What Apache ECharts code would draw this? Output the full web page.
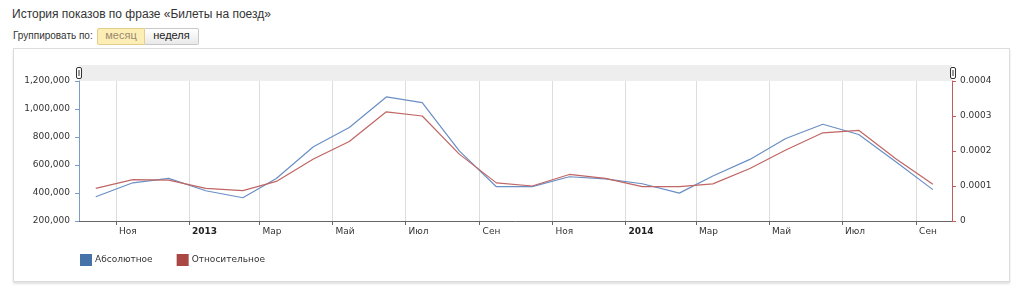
<!DOCTYPE html>
<html>
<head>
<meta charset="utf-8">
<script src="https://cdn.jsdelivr.net/npm/echarts@6/dist/echarts.min.js"></script>
<style>
  html, body { margin: 0; padding: 0; background: #fff; width: 1024px; height: 292px; overflow: hidden; }
  #title { position: absolute; left: 12px; top: 7px; font: 12px "Liberation Sans", Arial, sans-serif; color: #333; white-space: nowrap; }
  #grp { position: absolute; left: 13px; top: 29px; font: 10px "Liberation Sans", Arial, sans-serif; color: #333; white-space: nowrap; line-height: 14px; }
  .btn { position: absolute; top: 28px; height: 15px; line-height: 15px; font: 11px "Liberation Sans", Arial, sans-serif; text-align: center; box-sizing: content-box; }
  #b1 { left: 97px; width: 46px; background: #fdeeb6; border: 1px solid #e3cf8a; color: #9a8a70; border-radius: 2px 0 0 2px; }
  #b2 { left: 145px; width: 53px; background: linear-gradient(#ffffff, #e9e9e9); border: 1px solid #c8c8c8; border-left: none; color: #222; border-radius: 0 2px 2px 0; }
  #frame { position: absolute; left: 13px; top: 48px; width: 995px; height: 232px; border: 1px solid #dcdcdc; box-shadow: 0 2px 2px rgba(0,0,0,0.12); background: #fff; }
  #chart { position: absolute; left: 0; top: 0; width: 1024px; height: 292px; }
</style>
</head>
<body>
<div id="title">История показов по фразе «Билеты на поезд»</div>
<div id="grp">Группировать по:</div>
<div class="btn" id="b1">месяц</div>
<div class="btn" id="b2">неделя</div>
<div id="frame"></div>
<div id="chart"></div>
<script>
// ---- data ----
const months = ['2012-10','2012-11','2012-12','2013-01','2013-02','2013-03','2013-04','2013-05','2013-06','2013-07','2013-08','2013-09',
                '2013-10','2013-11','2013-12','2014-01','2014-02','2014-03','2014-04','2014-05','2014-06','2014-07','2014-08','2014-09'];
const absoluteValues = [373000, 473000, 504000, 416000, 366000, 504000, 730000, 868000, 1086000, 1046000, 701000, 445000,
                        445000, 516000, 501000, 466000, 399000, 521000, 640000, 789000, 891000, 818000, 623000, 424000];
const relativeValues = [0.0000933, 0.000118, 0.000117, 0.0000933, 0.0000866, 0.000113, 0.000177, 0.000227, 0.000312, 0.000300, 0.000191, 0.000109,
                        0.000100, 0.000133, 0.000122, 0.000098, 0.000098, 0.000106, 0.000150, 0.000203, 0.000252, 0.000259, 0.000178, 0.000105];
const tickDates = ['2012-11-01','2013-01-01','2013-03-01','2013-05-01','2013-07-01','2013-09-01',
                   '2013-11-01','2014-01-01','2014-03-01','2014-05-01','2014-07-01','2014-09-01'];
const tickLabels = ['Ноя','2013','Мар','Май','Июл','Сен','Ноя','2014','Мар','Май','Июл','Сен'];
const seriesNames = ['Абсолютное', 'Относительное'];
const axisStart = '2012-10-01';
const axisEnd = '2014-10-01';

function ts(s) {
  const p = s.split('-').map(Number);
  return Date.UTC(p[0], p[1] - 1, p[2] || 1);
}
const labelMap = {};
tickDates.forEach((d, i) => { labelMap[ts(d)] = tickLabels[i]; });

const FONT = 'DejaVu Sans';
const chart = echarts.init(document.getElementById('chart'), null, { renderer: 'canvas' });
chart.setOption({
  animation: false,
  backgroundColor: 'transparent',
  textStyle: { fontFamily: FONT },
  grid: { left: 79, right: 72, top: 81, bottom: 71, containLabel: false },
  graphic: [
    { type: 'rect', shape: { x: 79, y: 65, width: 873, height: 16 }, style: { fill: '#eeeeee' }, z: 0 },
    { type: 'rect', shape: { x: 76.5, y: 67.5, width: 5, height: 11, r: 1.5 }, style: { fill: '#fff', stroke: '#333', lineWidth: 1 }, z: 10 },
    { type: 'line', shape: { x1: 79, y1: 70, x2: 79, y2: 76 }, style: { stroke: '#333', lineWidth: 1 }, z: 11 },
    { type: 'rect', shape: { x: 950.5, y: 67.5, width: 5, height: 11, r: 1.5 }, style: { fill: '#fff', stroke: '#333', lineWidth: 1 }, z: 10 },
    { type: 'line', shape: { x1: 953, y1: 70, x2: 953, y2: 76 }, style: { stroke: '#333', lineWidth: 1 }, z: 11 }
  ],
  legend: {
    data: seriesNames,
    left: 80, top: 254, padding: 0,
    icon: 'rect', itemWidth: 12, itemHeight: 12, itemGap: 24,
    textStyle: { fontFamily: FONT, fontSize: 9, color: '#333', padding: [0, 0, 0, -2] }
  },
  xAxis: {
    type: 'value',
    min: ts(axisStart), max: ts(axisEnd),
    axisLine: { show: true, lineStyle: { color: '#666', width: 1 } },
    axisTick: { show: true, length: 4, lineStyle: { color: '#666' }, customValues: tickDates.map(ts) },
    axisLabel: {
      customValues: tickDates.map(ts),
      align: 'left', margin: 6, padding: [0, 0, 0, 3],
      fontFamily: FONT, fontSize: 9, color: '#333',
      formatter: function (v) {
        const t = labelMap[v] || '';
        return /^\d{4}$/.test(t) ? '{b|' + t + '}' : t;
      },
      rich: { b: { fontWeight: 'bold', fontFamily: FONT, fontSize: 9, color: '#222' } }
    },
    splitLine: { show: true, lineStyle: { color: '#dddddd', width: 1 } }
  },
  yAxis: [
    {
      type: 'value', min: 200000, max: 1200000, interval: 200000, position: 'left',
      axisLine: { show: true, lineStyle: { color: '#7d9ccc' } },
      axisTick: { show: true, length: 4, lineStyle: { color: '#7d9ccc' } },
      axisLabel: { margin: 9, fontFamily: FONT, fontSize: 9, color: '#333',
        formatter: v => String(v).replace(/\B(?=(\d{3})+(?!\d))/g, ',') },
      splitLine: { show: false }
    },
    {
      type: 'value', min: 0, max: 0.0004, interval: 0.0001, position: 'right',
      axisLine: { show: true, lineStyle: { color: '#c45a5a' } },
      axisTick: { show: true, length: 4, lineStyle: { color: '#c45a5a' } },
      axisLabel: { margin: 8, fontFamily: FONT, fontSize: 9, color: '#333',
        formatter: v => v === 0 ? '0' : v.toFixed(4) },
      splitLine: { show: false }
    }
  ],
  series: [
    {
      name: seriesNames[0], type: 'line', yAxisIndex: 0, showSymbol: false, symbol: 'none',
      color: '#4572A7', lineStyle: { width: 1.2, color: '#6a8fc4' },
      data: months.map((m, i) => [ts(m + '-15'), absoluteValues[i]])
    },
    {
      name: seriesNames[1], type: 'line', yAxisIndex: 1, showSymbol: false, symbol: 'none',
      color: '#AA4643', lineStyle: { width: 1.2, color: '#c06664' },
      data: months.map((m, i) => [ts(m + '-15'), relativeValues[i]])
    }
  ]
});
</script>
</body>
</html>
